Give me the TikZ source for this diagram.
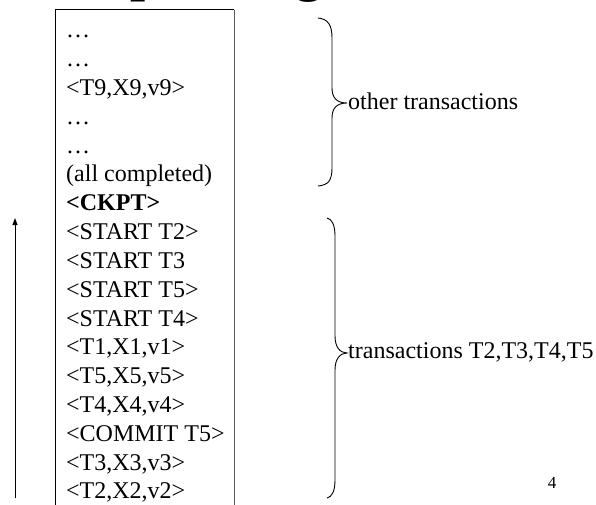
\documentclass[tikz,border=0pt]{standalone}
\usepackage{fontspec}
\setmainfont{Liberation Serif}
\usetikzlibrary{arrows.meta}
\tikzset{
  logline/.style={anchor=base west, inner sep=0pt, font=\fontsize{24}{28.8}\selectfont},
  bracelabel/.style={anchor=base west, inner sep=0pt, font=\fontsize{24}{28.8}\selectfont},
  bracepath/.style={line width=0.9pt},
  boxline/.style={line width=1pt},
}
\begin{document}
\begin{tikzpicture}[x=1pt,y=-1pt]
\useasboundingbox (0,0) rectangle (596,505);
% clipped title fragments
\begin{scope}
\clip (0,0) rectangle (596,505);
\node[anchor=base west, inner sep=0pt, font=\fontsize{54}{60}\selectfont\bfseries] (title) at (-17,-9) {Checkpointing};
\end{scope}
% log box
\coordinate (bl) at (55,505);
\coordinate (tl) at (55,10);
\coordinate (tr) at (234,10);
\coordinate (br) at (234,505);
\draw[boxline] (bl) -- (tl) -- (tr);
\draw[boxline, black!65] (tr) -- (br);
% log lines
\foreach \t [count=\i from 0] in {\ldots, \ldots, {<T9,X9,v9>}, \ldots, \ldots, (all completed), \textbf{<CKPT>}, <START T2>, <START T3, <START T5>, <START T4>, {<T1,X1,v1>}, {<T5,X5,v5>}, {<T4,X4,v4>}, <COMMIT T5>, {<T3,X3,v3>}, {<T2,X2,v2>}}
  \node[logline] (l\i) at (66, 38+28.8*\i) {\t};
% braces
\draw[bracepath] (318,18) .. controls (328,19) and (332,25) .. (332,38) -- (332,88)
   .. controls (332,98) and (337,103) .. (347,103)
   .. controls (337,103) and (332,108) .. (332,118) -- (332,168)
   .. controls (332,181) and (328,185) .. (318,186);
\node[bracelabel] (other) at (348,110) {other transactions};
\draw[bracepath] (327,218) .. controls (332,219) and (335,225) .. (335,236) -- (335,336)
   .. controls (335,347) and (340,353) .. (347,353)
   .. controls (340,353) and (335,359) .. (335,370) -- (335,480)
   .. controls (335,491) and (332,497) .. (327,498);
\node[bracelabel] (trans) at (348,358) {transactions T2,T3,T4,T5};
% arrow
\coordinate (arrbot) at (15,498);
\coordinate (arrtop) at (15,218);
\draw[line width=1pt, -{Triangle[length=7pt,width=5pt]}] (arrbot) -- (arrtop);
% page number
\node[anchor=base, inner sep=0pt, font=\fontsize{17}{20}\selectfont] (page) at (552,488) {4};
\end{tikzpicture}
\end{document}
